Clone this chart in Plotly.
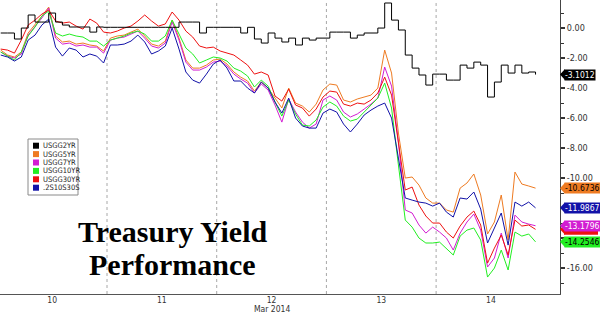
import plotly.graph_objects as go

# time axis: hours since Mon 10 Mar 2014 00:00 (each trading day one section)
hours = [0.75, 2.25, 3.75, 5.25, 6.75, 8.25, 9.75, 11.25, 12.75, 14.25,
         15.75, 17.25, 18.75, 20.25, 21.75, 23.25, 24.75, 26.25, 27.75, 29.25,
         30.75, 32.25, 33.75, 35.25, 36.75, 38.25, 39.75, 41.25, 42.75, 44.25,
         45.75, 47.25, 48.75, 50.25, 51.75, 53.25, 54.75, 56.25, 57.75, 59.25,
         60.75, 62.25, 63.75, 65.25, 66.75, 68.25, 69.75, 71.25, 72.75, 74.25,
         75.75, 77.25, 78.75, 80.25, 81.75, 83.25, 84.75, 86.25, 87.75, 89.25,
         90.75, 92.25, 93.75, 95.25, 96.75, 98.25, 99.75, 101.25, 102.75, 104.25,
         105.75, 107.25, 108.75, 110.25, 111.75, 113.25, 114.75, 116.25, 117.75]

usgg2yr = [-0.33, -0.33, -0.73, 0.00, 0.87, 0.40, 0.40, 1.00, 0.40, 0.20,
           0.07, 0.07, 0.07, -0.27, 0.07, 0.05, 0.05, 0.05, 0.05, 0.05,
           0.05, 0.05, 0.05, 0.05, 0.05, 0.05, 0.40, 0.40, 0.40, -0.33,
           0.05, 0.05, 0.05, 0.05, 0.05, -0.33, 0.05, -0.73, -1.00, -0.33,
           -0.67, -0.93, -0.67, -1.13, -0.67, -0.80, -0.67, -0.67, -0.27, -0.27,
           -0.27, -0.67, -0.47, -0.33, -0.33, 0.00, 1.67, 0.53, -0.13, -1.80,
           -2.67, -3.13, -3.80, -3.07, -3.07, -3.47, -3.47, -2.47, -2.67, -2.27,
           -2.47, -4.60, -3.60, -2.47, -3.00, -2.47, -3.00, -2.93, -3.1012]

usgg5yr = [-1.47, -1.80, -1.93, -1.60, -0.33, 0.20, 0.80, 1.40, -0.53, -0.93,
           -0.87, -1.07, -1.00, -1.13, -1.20, -1.53, -0.67, -0.53, -0.47, -0.27,
           -0.07, -0.53, -1.07, -1.20, -0.87, 0.53, -0.67, -2.13, -2.67, -2.67,
           -2.47, -2.13, -2.07, -2.40, -2.93, -3.27, -3.53, -4.20, -3.60, -4.00,
           -4.67, -5.33, -4.00, -5.00, -5.20, -5.60, -5.07, -4.13, -3.73, -3.80,
           -4.80, -4.93, -4.73, -4.60, -4.47, -4.00, -1.47, -3.00, -7.00, -10.00,
           -9.93, -10.47, -11.33, -11.67, -11.67, -12.13, -12.27, -10.67, -10.33, -9.73,
           -11.13, -13.73, -12.93, -11.13, -14.13, -9.60, -10.40, -10.53, -10.6736]

usgg7yr = [-1.60, -1.87, -2.00, -1.73, -0.47, 0.07, 0.67, 1.33, -0.67, -1.07,
           -1.00, -1.20, -1.13, -1.27, -1.27, -1.67, -0.80, -0.67, -0.60, -0.40,
           -0.20, -0.67, -1.20, -1.33, -1.00, 0.40, -0.80, -2.27, -2.80, -2.80,
           -2.60, -2.27, -2.20, -2.53, -3.07, -3.40, -3.67, -4.33, -3.73, -4.13,
           -5.13, -6.27, -4.73, -5.60, -6.27, -6.67, -6.40, -4.80, -4.53, -4.80,
           -5.60, -5.93, -5.73, -5.40, -5.07, -4.67, -2.60, -3.87, -7.60, -12.13,
           -12.33, -13.13, -13.67, -13.27, -13.60, -14.00, -14.80, -13.67, -12.93, -12.40,
           -13.47, -15.93, -15.33, -13.67, -15.33, -12.47, -12.93, -13.07, -13.1796]

usgg10yr = [-1.60, -1.87, -2.13, -1.60, -0.53, 0.07, 0.80, 1.13, -0.33, -0.53,
            -0.40, -0.53, -0.60, -0.87, -0.87, -1.20, -0.80, -0.67, -0.53, -0.33,
            -0.20, -0.40, -0.87, -0.87, -0.53, 0.53, -0.40, -1.33, -1.73, -2.33,
            -2.13, -1.93, -2.00, -2.20, -2.67, -2.87, -3.20, -3.93, -3.47, -3.87,
            -4.93, -5.87, -4.80, -5.73, -6.47, -6.53, -6.13, -5.27, -4.93, -5.20,
            -5.87, -6.20, -6.07, -5.60, -5.07, -4.67, -3.67, -5.33, -9.13, -12.80,
            -13.27, -14.00, -14.33, -14.33, -14.27, -14.73, -15.13, -13.87, -13.47, -13.33,
            -14.13, -16.60, -16.00, -14.80, -16.13, -13.60, -13.87, -13.73, -14.2546]

usgg30yr = [-1.40, -1.47, -1.67, -0.80, 0.20, 0.53, 0.93, 1.20, 0.47, 0.33,
            0.40, 0.13, -0.07, 0.60, 0.33, -0.27, -0.33, -0.20, 0.00, 0.13,
            0.47, 0.87, 0.47, 0.13, 0.27, 1.07, 0.53, -0.20, -0.60, -1.20,
            -1.33, -1.27, -1.53, -1.67, -1.80, -2.13, -2.47, -3.07, -2.93, -3.13,
            -4.53, -4.87, -4.07, -5.13, -5.33, -5.87, -5.40, -4.60, -4.20, -4.27,
            -5.07, -5.20, -5.00, -5.07, -4.80, -4.33, -3.27, -4.47, -7.47, -10.80,
            -10.60, -11.80, -12.53, -13.00, -13.00, -13.60, -14.00, -13.20, -12.60, -12.20,
            -13.13, -15.67, -14.67, -13.80, -15.13, -12.80, -13.20, -13.13, -13.42]

fly_2s10s30s = [-1.80, -1.93, -2.20, -1.93, -0.80, -0.47, 0.20, 0.60, -1.27, -1.87,
                -1.33, -1.47, -1.93, -1.73, -1.87, -2.33, -1.13, -1.13, -1.07, -0.87,
                -0.47, -0.93, -1.73, -1.53, -1.20, 0.00, -1.40, -2.93, -3.47, -3.67,
                -3.07, -2.40, -2.13, -2.67, -3.53, -3.53, -4.00, -4.33, -3.60, -4.00,
                -4.93, -5.67, -4.67, -6.00, -6.53, -6.67, -6.67, -5.67, -5.40, -5.60,
                -6.40, -6.93, -6.40, -5.80, -5.47, -5.20, -5.00, -6.00, -8.67, -11.33,
                -11.47, -11.60, -11.67, -11.87, -11.67, -12.27, -12.60, -11.33, -11.40, -10.93,
                -12.07, -14.33, -13.33, -12.33, -14.47, -11.60, -11.87, -11.60, -11.9867]

series_names = ["USGG2YR", "USGG5YR", "USGG7YR", "USGG10YR", "USGG30YR", ".2S10S30S"]
series_values = [usgg2yr, usgg5yr, usgg7yr, usgg10yr, usgg30yr, fly_2s10s30s]
series_colors = ["#000000", "#EE7B22", "#D21DD2", "#22EE22", "#EE1111", "#1212A8"]
label_text_colors = ["#FFFFFF", "#000000", "#FFFFFF", "#000000", "#FFFFFF", "#FFFFFF"]

day_tick_hours = [12, 36, 60, 84, 108]
day_tick_labels = ["10", "11", "12", "13", "14"]
day_boundaries = [24, 48, 72, 96]
month_label = "Mar 2014"

# -12.00 and -14.00 are covered by the last-value tags in the original
y_tick_vals = [0, -2, -4, -6, -8, -10, -12, -14, -16]
y_tick_labels = ["0.00", "-2.00", "-4.00", "-6.00", "-8.00", "-10.00", "", "", "-16.00"]

YMIN, YMAX = -17.73, 1.87
XMIN, XMAX = 0.59, 123.1
PLOT_W, PLOT_H = 560, 294
NARROW = "Liberation Sans Narrow, DejaVu Sans Condensed, Liberation Sans, Arial, sans-serif"

fig = go.Figure()

draw_order = [1, 2, 3, 4, 5, 0]
for i in draw_order:
    fig.add_trace(go.Scatter(
        x=hours, y=series_values[i], mode="lines", name=series_names[i],
        line=dict(color=series_colors[i], width=1,
                  shape="hv" if i == 0 else "linear"),
        showlegend=False))

shapes = []
for b in day_boundaries:
    shapes.append(dict(type="line", xref="x", yref="paper", x0=b, x1=b, y0=0, y1=1,
                       line=dict(color="#A8A8A8", width=1, dash="dot"), layer="below"))

annotations = []


def ypaper(v):
    return (v - YMIN) / (YMAX - YMIN)


# last-value tags on the right axis (30yr tag is almost hidden under the 7yr tag)
tag_order = [0, 1, 5, 4, 2, 3]
hidden_tag = 4
for i in tag_order:
    v = series_values[i][-1]
    yp = ypaper(v)
    dxp = 5 / PLOT_W
    dyp = 5.5 / PLOT_H
    shapes.append(dict(type="path", xref="paper", yref="paper",
                       path=f"M 1 {yp} L {1 + dxp} {yp + dyp} L {1 + dxp} {yp - dyp} Z",
                       fillcolor=series_colors[i], line=dict(width=0)))
    if i == hidden_tag:
        shapes.append(dict(type="rect", xref="paper", yref="paper",
                           x0=1 + 4 / PLOT_W, x1=1 + 38 / PLOT_W,
                           y0=yp - dyp, y1=yp + dyp,
                           fillcolor=series_colors[i], line=dict(width=0)))
        continue
    annotations.append(dict(x=1, xref="paper", y=v, yref="y", xanchor="left",
                            yanchor="middle", xshift=4, showarrow=False,
                            text=f"{v:.4f}", bgcolor=series_colors[i], borderpad=0,
                            font=dict(family=NARROW, size=8.5, color=label_text_colors[i])))

# custom legend box
lx0, lx1, ly0, ly1 = 28, 78, 139, 195
shapes.append(dict(type="rect", xref="paper", yref="paper",
                   x0=lx0 / PLOT_W, x1=lx1 / PLOT_W, y0=1 - ly1 / PLOT_H, y1=1 - ly0 / PLOT_H,
                   fillcolor="white", line=dict(color="#8A8A8A", width=1)))
for j, name in enumerate(series_names):
    cy = 145.7 + j * 8.4
    shapes.append(dict(type="rect", xref="paper", yref="paper",
                       x0=33 / PLOT_W, x1=39 / PLOT_W,
                       y0=1 - (cy + 3) / PLOT_H, y1=1 - (cy - 3) / PLOT_H,
                       fillcolor=series_colors[j], line=dict(width=0)))
    annotations.append(dict(x=41 / PLOT_W, xref="paper", y=1 - cy / PLOT_H, yref="paper",
                            xanchor="left", yanchor="middle", showarrow=False, text=name,
                            font=dict(family=NARROW, size=7.5, color="#222222")))

# title
TITLE_FONT = dict(family="Liberation Serif, Times New Roman, serif", size=30, color="#000000",
                  weight="bold")
annotations.append(dict(x=172 / PLOT_W, xref="paper", y=1 - 231 / PLOT_H, yref="paper",
                        xanchor="center", yanchor="middle", showarrow=False,
                        text="Treasury Yield", font=TITLE_FONT))
annotations.append(dict(x=172 / PLOT_W, xref="paper", y=1 - 264 / PLOT_H, yref="paper",
                        xanchor="center", yanchor="middle", showarrow=False,
                        text="Performance", font=TITLE_FONT))

# month label
annotations.append(dict(x=day_tick_hours[2], xref="x", y=0, yref="paper",
                        xanchor="center", yanchor="middle", yshift=-15, showarrow=False,
                        borderpad=0,
                        text=month_label, font=dict(family=NARROW, size=8.5, color="#333333")))

fig.update_layout(
    width=600, height=315,
    margin=dict(l=0, r=40, t=0, b=21),
    paper_bgcolor="white", plot_bgcolor="white",
    shapes=shapes, annotations=annotations,
    xaxis=dict(range=[XMIN, XMAX], tickmode="array", tickvals=day_tick_hours,
               ticktext=day_tick_labels, showgrid=False, zeroline=False,
               showline=True, linecolor="#555555", linewidth=1, ticks="",
               ticklabelstandoff=-2,
               tickfont=dict(family=NARROW, size=8.5, color="#333333")),
    yaxis=dict(range=[YMIN, YMAX], side="right", tickmode="array",
               tickvals=y_tick_vals, ticktext=y_tick_labels, showgrid=False,
               zeroline=False, showline=True, linecolor="#444444", linewidth=1,
               ticks="outside", ticklen=4, tickwidth=2, tickcolor="#333333",
               minor=dict(tickmode="linear", tick0=1, dtick=2, ticks="outside",
                          ticklen=3, tickwidth=1, tickcolor="#333333"),
               tickfont=dict(family=NARROW, size=9, color="#333333")),
)

fig.write_html("out.html")
